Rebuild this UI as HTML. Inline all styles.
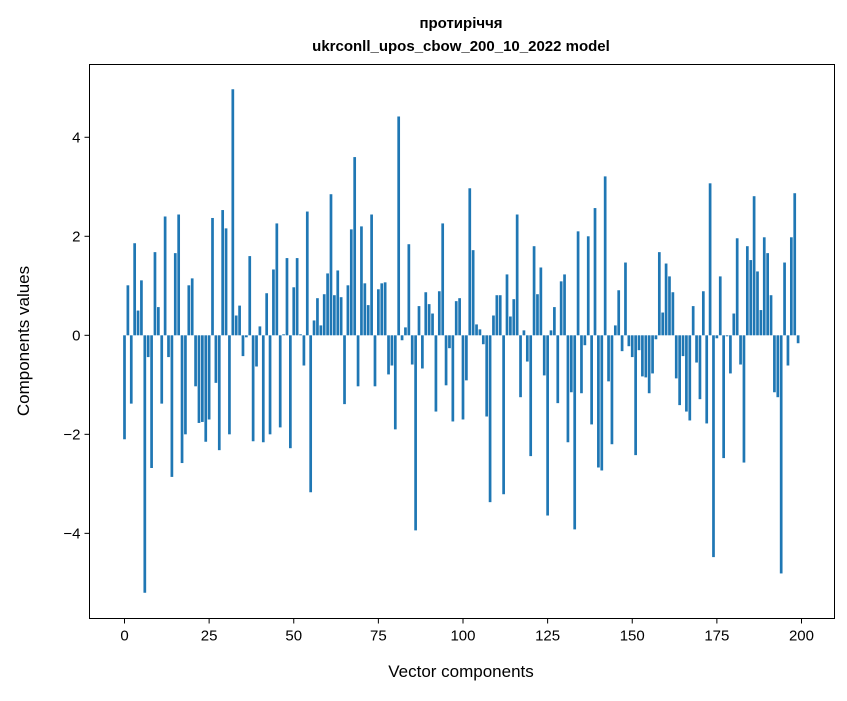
<!DOCTYPE html>
<html><head><meta charset="utf-8"><style>
body{margin:0;background:#fff;font-family:"Liberation Sans",sans-serif}
svg text{font-family:"Liberation Sans","DejaVu Sans",sans-serif}
</style></head><body>
<svg id="chart" width="847" height="696" viewBox="0 0 847 696" xmlns="http://www.w3.org/2000/svg">
<rect width="847" height="696" fill="#fff"/>
<text x="461" y="28" text-anchor="middle" font-size="15" font-weight="bold">протиріччя</text>
<text x="461" y="51" text-anchor="middle" font-size="15" font-weight="bold">ukrconll_upos_cbow_200_10_2022 model</text>
<g id="bars"></g>
<rect x="89.5" y="64.5" width="745" height="554" fill="none" stroke="#000" stroke-width="1"/>
<g id="xaxis"></g>
<g id="yaxis"></g>
<text x="461" y="677" text-anchor="middle" font-size="17">Vector components</text>
<text transform="translate(29,341) rotate(-90)" text-anchor="middle" font-size="17">Components values</text>
</svg>
<script>
const values = [-2.1,1.01,-1.38,1.86,0.5,1.11,-5.2,-0.44,-2.68,1.68,0.57,-1.38,2.4,-0.44,-2.86,1.66,2.44,-2.58,-2.0,1.01,1.15,-1.03,-1.77,-1.75,-2.15,-1.7,2.37,-0.96,-2.32,2.53,2.16,-2.0,4.97,0.4,0.6,-0.42,-0.04,1.6,-2.14,-0.63,0.18,-2.16,0.85,-2.0,1.33,2.26,-1.86,0.02,1.56,-2.28,0.97,1.56,0.02,-0.61,2.5,-3.17,0.3,0.75,0.2,0.83,1.25,2.85,0.81,1.31,0.77,-1.39,1.01,2.14,3.6,-1.03,2.2,1.05,0.61,2.44,-1.03,0.93,1.05,1.07,-0.79,-0.61,-1.9,4.42,-0.1,0.16,1.84,-0.59,-3.94,0.59,-0.67,0.87,0.63,0.44,-1.54,0.89,2.26,-1.01,-0.26,-1.74,0.69,0.75,-1.7,-0.91,2.97,1.72,0.22,0.12,-0.18,-1.64,-3.37,0.4,0.81,0.81,-3.21,1.23,0.38,0.73,2.44,-1.25,0.1,-0.53,-2.44,1.8,0.83,1.37,-0.81,-3.64,0.1,0.57,-1.37,1.09,1.23,-2.16,-1.15,-3.92,2.1,-1.17,-0.2,2.0,-1.8,2.57,-2.67,-2.73,3.21,-0.93,-2.2,0.2,0.91,-0.32,1.47,-0.22,-0.44,-2.42,-0.3,-0.83,-0.85,-1.17,-0.77,-0.08,1.68,0.46,1.45,1.19,0.87,-0.87,-1.41,-0.42,-1.54,-1.72,0.59,-0.55,-1.29,0.89,-1.78,3.07,-4.48,-0.06,1.19,-2.48,-0.02,-0.77,0.44,1.96,-0.59,-2.57,1.8,1.52,2.81,1.29,0.51,1.98,1.66,0.81,-1.15,-1.25,-4.81,1.47,-0.61,1.98,2.87,-0.16];
const xTicks = [0,25,50,75,100,125,150,175,200];
const yTicks = [-4,-2,0,2,4];
const xMin=-10.34, xMax=209.75, yMin=-5.72, yMax=5.47;
const L=89.5,R=834.5,T=64.5,B=618.5;
const NS="http://www.w3.org/2000/svg";
function xs(v){return L+(v-xMin)/(xMax-xMin)*(R-L);}
function ys(v){return B-(v-yMin)/(yMax-yMin)*(B-T);}
const bars=document.getElementById('bars');
values.forEach((v,i)=>{
  const r=document.createElementNS(NS,'rect');
  const x0=xs(i-0.4), x1=xs(i+0.4);
  const y0=ys(Math.max(v,0)), y1=ys(Math.min(v,0));
  r.setAttribute('x',x0);r.setAttribute('width',x1-x0);
  r.setAttribute('y',y0);r.setAttribute('height',Math.max(y1-y0,0.3));
  r.setAttribute('fill','#1f77b4');
  
  
  bars.appendChild(r);
});
const xa=document.getElementById('xaxis');
xTicks.forEach(t=>{
  const x=xs(t);
  const l=document.createElementNS(NS,'line');
  l.setAttribute('x1',x);l.setAttribute('x2',x);l.setAttribute('y1',B);l.setAttribute('y2',B+5);l.setAttribute('stroke','#000');
  
  
  xa.appendChild(l);
  const tx=document.createElementNS(NS,'text');
  tx.setAttribute('x',x);tx.setAttribute('y',B+22);tx.setAttribute('text-anchor','middle');tx.setAttribute('font-size','15');
  tx.textContent=t;
  
  
  xa.appendChild(tx);
});
const ya=document.getElementById('yaxis');
yTicks.forEach(t=>{
  const y=ys(t);
  const l=document.createElementNS(NS,'line');
  l.setAttribute('x1',L-5);l.setAttribute('x2',L);l.setAttribute('y1',y);l.setAttribute('y2',y);l.setAttribute('stroke','#000');
  
  
  ya.appendChild(l);
  const tx=document.createElementNS(NS,'text');
  tx.setAttribute('x',L-9);tx.setAttribute('y',y+5);tx.setAttribute('text-anchor','end');tx.setAttribute('font-size','15');
  tx.textContent=t<0?'\u2212'+Math.abs(t):String(t);
  
  
  ya.appendChild(tx);
});
</script>
</body></html>
